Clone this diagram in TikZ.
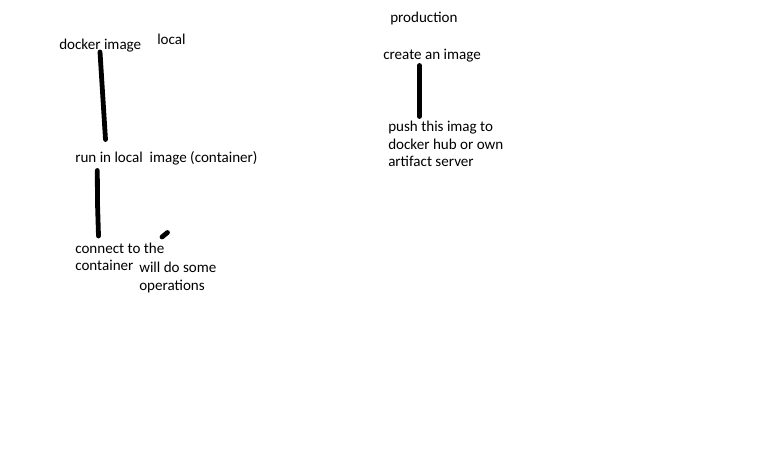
\documentclass[tikz,border=0pt]{standalone}
\usepackage{fontspec}
\setmainfont{Carlito}
\usetikzlibrary{positioning}

\tikzset{
  note/.style={anchor=base west,inner sep=0pt,align=left,
    font=\fontsize{11.3}{13.1}\selectfont},
  stroke/.style={line width=3.6pt,line cap=round,line join=round}
}

\begin{document}
\begin{tikzpicture}[x=0.75pt,y=-0.75pt]
\useasboundingbox[fill=white] (0,0) rectangle (768,460);

% local
\node[note] (dockerimg) at (59,50) {docker image};
\node[note] (local) at (157,44.5) {local};
\node[note] (runlocal) at (75,162.5) {run in local\ \ image (container)};
\node[note] (connect) at (75,270.5) {connect to the\\container};
\node[note] (operations) at (139,290) {will do some\\operations};

% production
\node[note] (production) at (390,22.3) {production};
\node[note] (create) at (383,59.3) {create an image};
\node[note] (push) at (388,166.5) {push this imag to\\docker hub or own\\artifact server};

\coordinate (a1) at (100,52);
\coordinate (a2) at (105.5,139.5);
\coordinate (b1) at (97.3,170.5);
\coordinate (b2) at (97.5,203.3);
\coordinate (b3) at (98.5,236);
\coordinate (c1) at (162,237);
\coordinate (c2) at (167.5,232.5);
\coordinate (d1) at (419.3,65.5);
\coordinate (d2) at (419.3,116.5);

\draw[stroke] (a1) -- (a2);
\draw[stroke] (b1) -- (b2) -- (b3);
\draw[stroke] (c1) -- (c2);
\draw[stroke] (d1) -- (d2);
\end{tikzpicture}
\end{document}
